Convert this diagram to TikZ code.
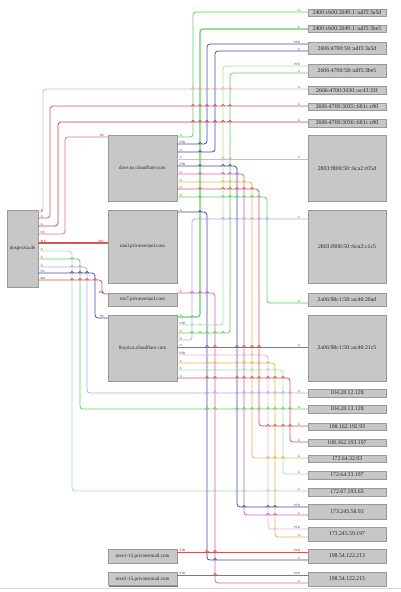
\documentclass[tikz,border=0pt]{standalone}
\usepackage{fontspec}
\setmainfont{Liberation Serif}
\usetikzlibrary{shadows}
\definecolor{cgreen}{HTML}{60D060}
\definecolor{clgreen}{HTML}{A8E2A8}
\definecolor{cblue}{HTML}{4848A8}
\definecolor{clav}{HTML}{A8B0E8}
\definecolor{cmag}{HTML}{D060C0}
\definecolor{cpink}{HTML}{F0B0E0}
\definecolor{corange}{HTML}{E4B458}
\definecolor{cred}{HTML}{D85454}
\definecolor{clred}{HTML}{EEAAAA}
\definecolor{cdred}{HTML}{C84040}
\definecolor{csalmon}{HTML}{F0B4A4}
\newcommand\hopmark[3]{\draw[#1, line width=0.6pt] (#2-1.6,#3) arc[start angle=180, end angle=360, radius=1.6];}
\begin{document}
\begin{tikzpicture}[x=1pt,y=-1pt,
  box/.style={draw=black!40, fill=black!22, line width=0.4pt, inner sep=0pt,
    font=\fontsize{5}{5.5}\selectfont, text=black!85,
    general shadow={fill=black!55, shadow xshift=1.2pt, shadow yshift=-1.2pt}},
  rbox/.style={box, minimum width=78, font=\fontsize{5.8}{6}\selectfont},
  mbox/.style={box, minimum width=69},
  e/.style={line width=0.8pt, rounded corners=3pt},
  lab/.style={inner sep=0.4pt, font=\fontsize{3.2}{3.4}\selectfont, text=black!75},
  tl/.style={lab, anchor=south west, xshift=1.5pt},
  hl/.style={lab, anchor=south east, xshift=-7pt},
  hm/.style={lab, anchor=south east, xshift=-3pt}]
\useasboundingbox (0,0) rectangle (401,592);
\draw[black!15, line width=0.6pt] (0,588) -- (401,588);
% nodes
\node[box, minimum width=31, minimum height=77] (dns) at (22.5,248.5) {dnsperzia.de};
\node[mbox, minimum height=66] (devcs) at (142.5,168) {dave.ns.cloudflare.com};
\node[mbox, minimum height=73] (mail) at (142.5,246.5) {mail.privateemail.com};
\node[mbox, minimum height=13] (mx7) at (142.5,299.5) {mx7.privateemail.com};
\node[mbox, minimum height=66] (lloyd) at (142.5,348) {lloyd.ns.cloudflare.com};
\node[mbox, minimum height=14] (mxe1) at (142.5,556) {mxe1-15.privateemail.com};
\node[mbox, minimum height=13] (mxe2) at (142.5,579) {mxe2-15.privateemail.com};
\node[rbox, minimum height=7] (r1) at (347,12.5) {2400:cb00:2049:1::adf5:3a5d};
\node[rbox, minimum height=7] (r2) at (347,28.5) {2400:cb00:2049:1::adf5:3be5};
\node[rbox, minimum height=12] (r3) at (347,48) {2606:4700:50::adf5:3a5d};
\node[rbox, minimum height=13] (r4) at (347,70.5) {2606:4700:58::adf5:3be5};
\node[rbox, minimum height=8] (r5) at (347,90) {2606:4700:3030::ac43:33f};
\node[rbox, minimum height=7] (r6) at (347,106.5) {2606:4700:3035::681c:c80};
\node[rbox, minimum height=8] (r7) at (347,123) {2606:4700:3036::681c:c80};
\node[rbox, minimum height=66] (r8) at (347,168) {2803:f800:50::6ca2:c05d};
\node[rbox, minimum height=73] (r9) at (347,246.5) {2803:f800:50::6ca2:c1c5};
\node[rbox, minimum height=13] (r10) at (347,299.5) {2a06:98c1:58::ac40:20ad};
\node[rbox, minimum height=66] (r11) at (347,348) {2a06:98c1:50::ac40:21c5};
\node[rbox, minimum height=8] (r12) at (347,393) {104.28.12.128};
\node[rbox, minimum height=8] (r13) at (347,409) {104.28.13.128};
\node[rbox, minimum height=7] (r14) at (347,426.5) {108.162.192.93};
\node[rbox, minimum height=7] (r15) at (347,442.5) {108.162.193.197};
\node[rbox, minimum height=7] (r16) at (347,458.5) {172.64.32.93};
\node[rbox, minimum height=8] (r17) at (347,475) {172.64.33.197};
\node[rbox, minimum height=8] (r18) at (347,492) {172.67.193.63};
\node[rbox, minimum height=15] (r19) at (347,511.5) {173.245.58.93};
\node[rbox, minimum height=14] (r20) at (347,534) {173.245.59.197};
\node[rbox, minimum height=14] (r21) at (347,556) {198.54.122.213};
\node[rbox, minimum height=14] (r22) at (347,579) {198.54.122.215};
% dnsperzia.de edges
\draw[e, clred] (dns.east |- 0,212) node[tl]{A} -| (43,89) -- (r5.west |- 0,89) node[hl]{A};
\draw[e, cred] (dns.east |- 0,218) node[tl]{A} -| (50,106) -- (r6.west |- 0,106) node[hl]{A};
\draw[e, cdred] (dns.east |- 0,226) node[tl]{A} -| (58,122) -- (r7.west |- 0,122) node[hl]{A};
\draw[e, cred!80] (dns.east |- 0,234) node[tl]{NS} -| (65,137) -- (devcs.west |- 0,137) node[hm]{NS};
\draw[e, cred, line width=1.2pt] (dns.east |- 0,243) node[tl]{MX} -- (mail.west |- 0,243) node[hm]{MX};
\draw[e, clgreen] (dns.east |- 0,251) node[tl]{A} -| (72,491) -- (r18.west |- 0,491) node[hl]{A};
\draw[e, cgreen] (dns.east |- 0,259) node[tl]{A} -| (80,409) -- (r13.west |- 0,409) node[hl]{A};
\draw[e, clav] (dns.east |- 0,267) node[tl]{A} -| (87,393) -- (r12.west |- 0,393) node[hl]{A};
\draw[e, cblue] (dns.east |- 0,273) node[tl]{NS} -| (95,318) -- (lloyd.west |- 0,318) node[hm]{NS};
\draw[e, cred] (dns.east |- 0,280) node[tl]{MX} -| (102,294) -- (mx7.west |- 0,294) node[hm]{MX};
% dave edges
\draw[e, cgreen] (devcs.east |- 0,137) node[tl]{A} -| (193,12) -- (r1.west |- 0,12) node[hl]{A};
\draw[e, cblue] (devcs.east |- 0,144) node[tl]{PTR} -| (207,44) -- (r3.west |- 0,44) node[hl]{PTR};
\draw[e, cblue] (devcs.east |- 0,152) node[tl]{A} -| (215,51) -- (r3.west |- 0,51) node[hl]{A};
\draw[e, csalmon] (devcs.east |- 0,159) node[tl]{A} -- (r8.west |- 0,159) node[hl]{A};
\draw[e, cblue] (devcs.east |- 0,166) node[tl]{PTR} -| (237,507) -- (r19.west |- 0,507) node[hl]{PTR};
\draw[e, cmag] (devcs.east |- 0,174) node[tl]{A} -| (244,515) -- (r19.west |- 0,515) node[hl]{A};
\draw[e, corange] (devcs.east |- 0,182) node[tl]{A} -| (252,458) -- (r16.west |- 0,458) node[hl]{A};
\draw[e, cred] (devcs.east |- 0,189) node[tl]{A} -| (259,426) -- (r14.west |- 0,426) node[hl]{A};
\draw[e, cgreen] (devcs.east |- 0,197) node[tl]{A} -| (267,303) -- (r10.west |- 0,303) node[hl]{A};
% mail / mx7
\draw[e, cblue] (mail.east |- 0,212) node[tl]{A} -| (207,560) -- (r21.west |- 0,560) node[hl]{A};
\draw[e, cmag] (mx7.east |- 0,293) node[tl]{A} -| (215,583) -- (r22.west |- 0,583) node[hl]{A};
% lloyd edges
\draw[e, cgreen, line width=1.2pt] (lloyd.east |- 0,317) node[tl]{A} -| (200,29) -- (r2.west |- 0,29) node[hl]{A};
\draw[e, clgreen] (lloyd.east |- 0,325) node[tl]{PTR} -| (223,66) -- (r4.west |- 0,66) node[hl]{PTR};
\draw[e, cgreen] (lloyd.east |- 0,333) node[tl]{A} -| (230,73) -- (r4.west |- 0,73) node[hl]{A};
\draw[e, clav] (lloyd.east |- 0,340) node[tl]{A} -| (192,219) -- (r9.west |- 0,219) node[hl]{A};
\draw[e, cred, line width=1pt] (lloyd.east |- 0,347) node[tl]{A} -- (r11.west |- 0,347) node[hl]{A};
\draw[e, cpink] (lloyd.east |- 0,355) node[tl]{PTR} -| (268,529) -- (r20.west |- 0,529) node[hl]{PTR};
\draw[e, corange] (lloyd.east |- 0,363) node[tl]{A} -| (275,537) -- (r20.west |- 0,537) node[hl]{A};
\draw[e, clgreen] (lloyd.east |- 0,370) node[tl]{A} -| (283,474) -- (r17.west |- 0,474) node[hl]{A};
\draw[e, cred] (lloyd.east |- 0,378) node[tl]{A} -| (290,442) -- (r15.west |- 0,442) node[hl]{A};
% PTR to mxe
\draw[e, cred] (mxe1.east |- 0,552) node[tl]{PTR} -- (r21.west |- 0,552) node[hl]{PTR};
\draw[e, cred] (mxe2.east |- 0,575) node[tl]{PTR} -- (r22.west |- 0,575) node[hl]{PTR};
% line hops
\foreach \x in {193,200,207,215,223,230} {\hopmark{clred}{\x}{89} \hopmark{cred}{\x}{106} \hopmark{cdred}{\x}{122}}
\hopmark{cgreen}{72}{259}
\foreach \x in {72,80} \hopmark{clav}{\x}{267};
\foreach \x in {72,80,87} \hopmark{cblue}{\x}{273};
\foreach \x in {72,80,87,95} \hopmark{cred}{\x}{280};
\hopmark{cblue}{200}{144}
\hopmark{cblue}{200}{152}
\foreach \x in {200,223,230} {\hopmark{csalmon}{\x}{159} \hopmark{cblue}{\x}{166}}
\foreach \x in {200,223,230,237} \hopmark{cmag}{\x}{174};
\foreach \x in {200,223,230,237,244} \hopmark{corange}{\x}{182};
\foreach \x in {200,223,230,237,244,252} \hopmark{cred}{\x}{189};
\foreach \x in {200,223,230,237,244,252,259} \hopmark{cgreen}{\x}{197};
\hopmark{cblue}{200}{212}
\foreach \x in {192,200,207} \hopmark{cmag}{\x}{293};
\foreach \x in {200,207,223,230,237,244,252,259,267} \hopmark{clav}{\x}{219};
\hopmark{cgreen}{192}{317}
\foreach \x in {192,200,207,215} \hopmark{clgreen}{\x}{325};
\foreach \x in {192,200,207,215,223} \hopmark{cgreen}{\x}{333};
\foreach \x in {207,215,237,244,252,259} {\hopmark{cred}{\x}{347} \hopmark{cpink}{\x}{355}}
\foreach \x in {207,215,237,244,252,259,268} \hopmark{corange}{\x}{363};
\foreach \x in {207,215,237,244,252,259,268,275} \hopmark{clgreen}{\x}{370};
\foreach \x in {207,215,237,244,252,259,268,275,283} \hopmark{cred}{\x}{378};
\foreach \x in {207,215,237,244,252,259,268,275,283,290} {\hopmark{clav}{\x}{393} \hopmark{cgreen}{\x}{409}}
\foreach \x in {268,275,283,290} \hopmark{cred}{\x}{426};
\foreach \x in {268,275,283} \hopmark{corange}{\x}{458};
\foreach \x in {207,215,237,244,268,275} \hopmark{clgreen}{\x}{491};
\foreach \x in {244,268,275} \hopmark{cblue}{\x}{507};
\foreach \x in {268,275} \hopmark{cmag}{\x}{515};
\hopmark{cpink}{275}{529}
\foreach \x in {207,215} \hopmark{cred}{\x}{552};
\hopmark{cblue}{215}{560}
\hopmark{cred}{215}{575}
\end{tikzpicture}
\end{document}
